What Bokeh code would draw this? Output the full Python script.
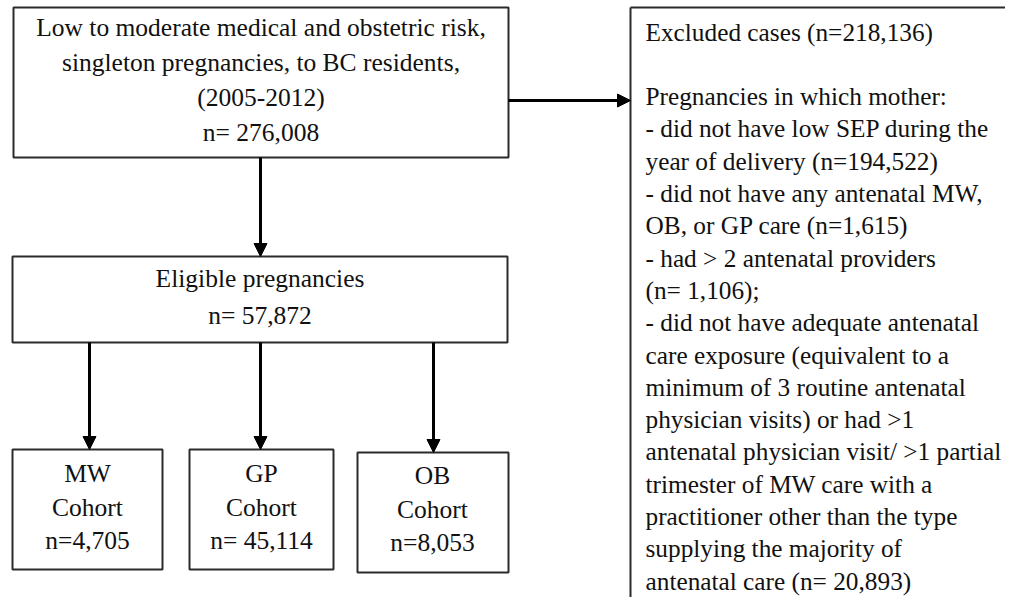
from bokeh.plotting import figure
from bokeh.models import Range1d, Arrow, NormalHead
from bokeh.core.properties import value
from bokeh.embed import file_html
from bokeh.resources import INLINE

# ---------------- data ----------------
source_lines = ["Low to moderate medical and obstetric risk,",
                "singleton pregnancies, to BC residents,",
                "(2005-2012)"]
source_n = "276,008"
eligible_label = "Eligible pregnancies"
eligible_n = "57,872"
cohorts = ["MW", "GP", "OB"]
cohort_n = ["n=4,705", "n= 45,114", "n=8,053"]
excluded_n = "218,136"
excluded_lines = [
    "Excluded cases (n=218,136)",
    "",
    "Pregnancies in which mother:",
    "- did not have low SEP during the",
    "year of delivery (n=194,522)",
    "- did not have any antenatal MW,",
    "OB, or GP care (n=1,615)",
    "- had > 2 antenatal providers",
    "(n= 1,106);",
    "- did not have adequate antenatal",
    "care exposure (equivalent to a",
    "minimum of 3 routine antenatal",
    "physician visits) or had >1",
    "antenatal physician visit/ >1 partial",
    "trimester of MW care with a",
    "practitioner other than the type",
    "supplying the majority of",
    "antenatal care (n= 20,893)",
]

# ---------------- layout (pixel space, 1:1) ----------------
PW, PH = 1005, 597
p = figure(width=PW, height=PH, output_backend="svg", toolbar_location=None,
           x_range=Range1d(0, PW), y_range=Range1d(PH, 0), min_border=0)
p.axis.visible = False
p.grid.visible = False
p.outline_line_color = None
p.background_fill_color = "white"
p.border_fill_color = "white"

FONT = value("Liberation Serif")
FS = "25.5px"
FS_R = "25.3px"
BOX_LINE = "#2b2b2b"

# closed boxes: left, right, top, bottom
box_l = [13, 12, 12, 189, 357]
box_r = [508, 507, 162, 333, 508]
box_t = [7, 256, 449, 449, 452]
box_b = [157, 342, 569, 569, 572]
p.quad(left=box_l, right=box_r, top=box_t, bottom=box_b,
       fill_color="white", line_color=BOX_LINE, line_width=2)

# open (cut-off) exclusion box: top and left edges only
RX = 630
p.segment(x0=[RX, RX], y0=[7, 7], x1=[PW + 20, RX], y1=[7, PH + 20],
          line_color=BOX_LINE, line_width=2)

# centered texts
cx, cy, ct = [], [], []
for i, t in enumerate(source_lines + ["n= " + source_n]):
    cx.append(260.5); cy.append(27 + 35 * i); ct.append(t)
for i, t in enumerate([eligible_label, "n= " + eligible_n]):
    cx.append(259.5); cy.append(278 + 37 * i); ct.append(t)
cohort_x = [87, 261, 432]
cohort_y0 = [473, 473, 475]
for k in range(3):
    for i, t in enumerate([cohorts[k], "Cohort", cohort_n[k]]):
        cx.append(cohort_x[k]); cy.append(cohort_y0[k] + 33.5 * i); ct.append(t)
p.text(x=cx, y=cy, text=ct, text_font=FONT, text_font_size=FS,
       text_align="center", text_baseline="middle", text_color="#111111")

# left-aligned exclusion text
ex_y = [31 + 32.3 * i for i in range(len(excluded_lines))]
p.text(x=[RX + 15] * len(excluded_lines), y=ex_y, text=excluded_lines,
       text_font=FONT, text_font_size=FS_R, text_align="left",
       text_baseline="middle", text_color="#111111")

# arrows
def arrow(x0, y0, x1, y1):
    p.add_layout(Arrow(end=NormalHead(size=13, fill_color="black", line_color="black", line_width=1),
                       x_start=x0, y_start=y0, x_end=x1, y_end=y1,
                       line_width=3, line_color="black"))

arrow(260, 157, 260, 256)
arrow(508, 100, RX, 100)
arrow(89, 342, 89, 449)
arrow(260, 342, 260, 449)
arrow(433, 342, 433, 452)

open("out.html", "w").write(file_html(p, INLINE))
